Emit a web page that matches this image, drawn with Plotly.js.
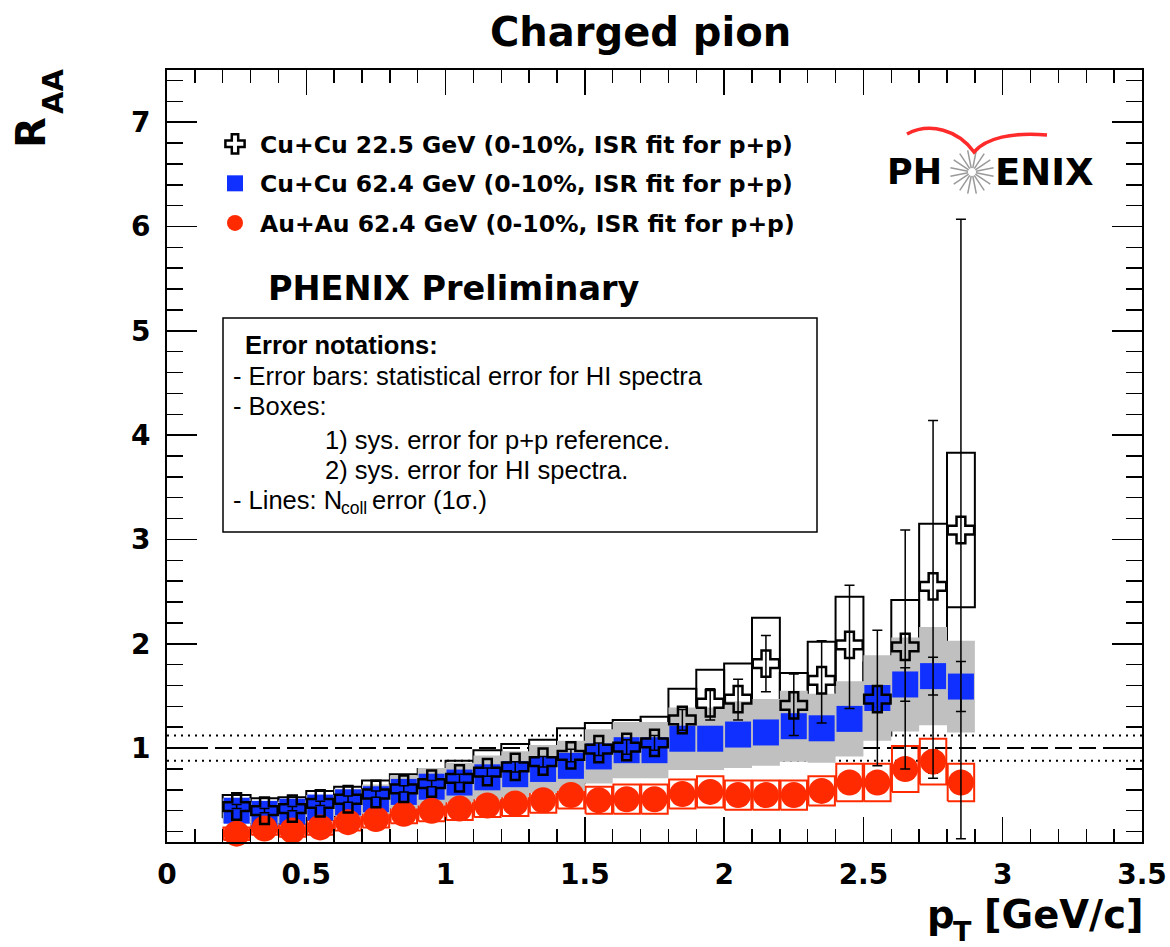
<!DOCTYPE html>
<html><head><meta charset="utf-8">
<script src="https://cdn.plot.ly/plotly-3.0.1.min.js"></script>
<style>body{margin:0;background:#fff}#plot{width:1170px;height:947px}</style>
</head><body><div id="plot"></div>
<script>
// ---- data ----
const pt = [0.25,0.35,0.45,0.55,0.65,0.75,0.85,0.95,1.05,1.15,1.25,1.35,1.45,1.55,1.65,1.75,1.85,1.95,2.05,2.15,2.25,2.35,2.45,2.55,2.65,2.75,2.85];

const cu22      = [0.44,0.40,0.42,0.47,0.51,0.56,0.61,0.66,0.71,0.77,0.82,0.87,0.93,0.99,1.01,1.05,1.27,1.43,1.47,1.81,1.41,1.65,1.99,1.47,1.97,2.55,3.09];
const cu22StatUp= [0.02,0.02,0.02,0.02,0.03,0.03,0.03,0.03,0.04,0.04,0.05,0.05,0.06,0.06,0.07,0.07,0.10,0.14,0.19,0.27,0.30,0.38,0.57,0.66,1.12,1.59,2.98];
const cu22StatDn= [0.02,0.02,0.02,0.02,0.03,0.03,0.03,0.03,0.04,0.04,0.05,0.05,0.06,0.06,0.07,0.07,0.10,0.16,0.20,0.27,0.29,0.41,0.61,0.64,1.17,1.84,2.96];
const cu22Sys   = [0.11,0.12,0.11,0.12,0.12,0.13,0.14,0.14,0.17,0.21,0.22,0.21,0.26,0.25,0.26,0.25,0.30,0.32,0.34,0.44,0.31,0.37,0.46,0.35,0.45,0.60,0.74];

const cu62      = [0.40,0.37,0.39,0.43,0.48,0.51,0.58,0.63,0.67,0.72,0.75,0.80,0.83,0.92,0.98,0.98,1.09,1.09,1.13,1.15,1.21,1.19,1.28,1.48,1.61,1.69,1.59];
const cu62Stat  = [0.01,0.01,0.01,0.01,0.01,0.01,0.01,0.01,0.02,0.02,0.02,0.02,0.03,0.03,0.03,0.04,0.04,0.05,0.05,0.06,0.07,0.08,0.09,0.11,0.16,0.18,0.24];
const cu62Sys   = [0.12,0.11,0.11,0.12,0.13,0.14,0.16,0.18,0.19,0.21,0.22,0.23,0.24,0.26,0.27,0.27,0.30,0.30,0.32,0.32,0.34,0.33,0.36,0.41,0.45,0.47,0.44];

const au62      = [0.18,0.23,0.21,0.24,0.29,0.32,0.37,0.40,0.42,0.45,0.47,0.50,0.55,0.50,0.51,0.51,0.56,0.58,0.55,0.55,0.55,0.59,0.67,0.67,0.80,0.87,0.67];
const au62Stat  = [0.01,0.01,0.01,0.01,0.01,0.01,0.01,0.01,0.01,0.01,0.01,0.02,0.02,0.02,0.02,0.02,0.03,0.03,0.03,0.03,0.04,0.04,0.05,0.06,0.08,0.11,0.09];
const au62Sys   = [0.06,0.06,0.06,0.07,0.08,0.08,0.09,0.10,0.11,0.11,0.12,0.12,0.13,0.13,0.14,0.14,0.14,0.15,0.14,0.14,0.14,0.14,0.18,0.18,0.22,0.22,0.18];

const ncollLevel = [1.0];
const ncollErr   = [0.12];
const xRange = [0, 3.5];
const yRange = [0.1, 7.5];

const legendNames = [
  'Cu+Cu 22.5 GeV (0-10%, ISR fit for p+p)',
  'Cu+Cu 62.4 GeV (0-10%, ISR fit for p+p)',
  'Au+Au 62.4 GeV (0-10%, ISR fit for p+p)'
];

// ---- helpers ----
function boxPath(xc, yc, half, w) {
  const X = [], Y = [];
  xc.forEach((x, i) => {
    const x0 = x - w / 2, x1 = x + w / 2, y0 = yc[i] - half[i], y1 = yc[i] + half[i];
    X.push(x0, x1, x1, x0, x0, null);
    Y.push(y0, y0, y1, y1, y0, null);
  });
  return {X, Y};
}
// pixel -> paper conversion for decorations
const PL = 167, PR = 1142, PT = 70, PB = 842;
const px = x => (x - PL) / (PR - PL);
const py = y => (PB - y) / (PB - PT);

const BOLD = {family: 'DejaVu Sans', weight: 'bold', color: '#000'};

const redBox = boxPath(pt, au62, au62Sys, 0.095);
const blackBox = boxPath(pt, cu22, cu22Sys, 0.1);
const grayBox = boxPath(pt, cu62, cu62Sys, 0.1);

const traces = [
  {x: xRange, y: [ncollLevel[0], ncollLevel[0]], mode: 'lines', showlegend: false, hoverinfo: 'skip',
   line: {color: '#000', width: 2, dash: '17px,7px'}},
  {x: [xRange[0], xRange[1], null, xRange[0], xRange[1]],
   y: [ncollLevel[0] + ncollErr[0], ncollLevel[0] + ncollErr[0], null, ncollLevel[0] - ncollErr[0], ncollLevel[0] - ncollErr[0]],
   mode: 'lines', showlegend: false, hoverinfo: 'skip', line: {color: '#000', width: 2, dash: '2px,5px'}},
  {x: redBox.X, y: redBox.Y, mode: 'lines', showlegend: false, hoverinfo: 'skip',
   line: {color: '#ff2a00', width: 2}},
  {x: blackBox.X, y: blackBox.Y, mode: 'lines', showlegend: false, hoverinfo: 'skip',
   line: {color: '#000', width: 2}},
  {x: grayBox.X, y: grayBox.Y, mode: 'lines', fill: 'toself', fillcolor: '#c0c0c0', showlegend: false,
   hoverinfo: 'skip', line: {width: 0, color: 'rgba(0,0,0,0)'}},
  {x: pt, y: cu62, mode: 'markers', name: legendNames[1], legendgroup: 'b', legendrank: 2, cliponaxis: false,
   marker: {symbol: 'square', size: 26, color: '#1030ff'},
   error_y: {type: 'data', array: cu62Stat, color: '#000', thickness: 1.5, width: 5}},
  {x: pt, y: au62, mode: 'markers', name: legendNames[2], legendgroup: 'c', legendrank: 3, cliponaxis: false,
   marker: {symbol: 'circle', size: 26, color: '#ff2a00'},
   error_y: {type: 'data', array: au62Stat, color: '#000', thickness: 1.5, width: 5}},
  {x: pt, y: cu22, mode: 'markers', name: legendNames[0], legendgroup: 'a', legendrank: 1, cliponaxis: false,
   marker: {symbol: 'cross-open', size: 22, color: '#000', line: {color: '#000', width: 2.5}},
   error_y: {type: 'data', symmetric: false, array: cu22StatUp, arrayminus: cu22StatDn, color: '#000', thickness: 1.5, width: 5}}
];

// ---- decorations: error-notation frame, PHENIX logo starburst and arc ----
const shapes = [
  {type: 'rect', xref: 'paper', yref: 'paper', x0: px(223), x1: px(817), y0: py(532), y1: py(318),
   fillcolor: '#fff', line: {color: '#000', width: 1.5}, layer: 'above'}
];
const cx = 972, cy = 172;
for (let k = 0; k < 16; k++) {
  const a = k * Math.PI / 8 + Math.PI / 16;
  shapes.push({type: 'line', xref: 'paper', yref: 'paper',
    x0: px(cx + 4 * Math.cos(a)), y0: py(cy + 4 * Math.sin(a)),
    x1: px(cx + 22 * Math.cos(a)), y1: py(cy + 22 * Math.sin(a)),
    line: {color: '#9a9a9a', width: 1.5}});
}
const pp = (x, y) => px(x).toFixed(5) + ',' + py(y).toFixed(5);
shapes.push({type: 'path', xref: 'paper', yref: 'paper',
  path: 'M' + pp(907, 134) + ' C' + pp(930, 122) + ' ' + pp(958, 130) + ' ' + pp(974, 152) +
        ' C' + pp(986, 138) + ' ' + pp(1012, 132) + ' ' + pp(1047, 135),
  line: {color: '#ff2a2a', width: 3.5}});

function ann(text, x, y, xa, ya, font, extra) {
  return Object.assign({text: text, xref: 'paper', yref: 'paper', x: px(x), y: py(y), xanchor: xa, yanchor: ya,
    showarrow: false, font: font}, extra || {});
}
const B = s => Object.assign({size: s}, BOLD);
const annotations = [
  ann('Charged pion', 640, 32, 'center', 'middle', B(40)),
  // y-axis title R_AA (rotated), subscript drawn as its own smaller text
  ann('R', 31, 133, 'center', 'middle', B(40), {textangle: -90}),
  ann('AA', 53, 92, 'center', 'middle', B(29), {textangle: -90}),
  // x-axis title p_T [GeV/c]
  ann('p', 925, 915, 'left', 'middle', B(38.5)),
  ann('T', 951, 931, 'left', 'middle', B(27)),
  ann('[GeV/c]', 1146, 915, 'right', 'middle', B(38.5)),
  ann('PHENIX Preliminary', 266, 288, 'left', 'middle', B(33.5)),
  ann('PH', 944, 172, 'right', 'middle', B(35)),
  ann('ENIX', 993, 172, 'left', 'middle', B(37))
];
const REG = s => ({family: 'Liberation Sans', size: s, weight: 'normal', color: '#000'});
annotations.push(
  ann('Error notations:', 243, 345, 'left', 'middle', {family: 'Liberation Sans', size: 25.5, weight: 'bold', color: '#000'}),
  ann('- Error bars: statistical error for HI spectra', 231, 376, 'left', 'middle', REG(25.5)),
  ann('- Boxes:', 231, 406, 'left', 'middle', REG(25.5)),
  ann('1) sys. error for p+p reference.', 323, 440, 'left', 'middle', REG(25.5)),
  ann('2) sys. error for HI spectra.', 323, 470, 'left', 'middle', REG(25.5)),
  ann('- Lines: N', 231, 500, 'left', 'middle', REG(25.5)),
  ann('coll', 339, 508, 'left', 'middle', REG(17.5)),
  ann('error (1σ.)', 370, 500, 'left', 'middle', REG(25.5))
);

const axisCommon = {
  showline: true, linecolor: '#000', linewidth: 2, mirror: 'allticks',
  ticks: 'inside', tickcolor: '#000', tickwidth: 1.5, showgrid: false, zeroline: false,
  tickfont: B(28), ticklabelstandoff: 6
};

const layout = {
  width: 1170, height: 947,
  margin: {l: PL, r: 1170 - PR, t: PT, b: 947 - PB},
  paper_bgcolor: '#fff', plot_bgcolor: '#fff',
  showlegend: true,
  legend: {x: px(210), y: py(122), xanchor: 'left', yanchor: 'top', bgcolor: 'rgba(0,0,0,0)',
    itemwidth: 40, traceorder: 'grouped', tracegroupgap: 6, font: B(23.5)},
  xaxis: Object.assign({}, axisCommon, {range: xRange, dtick: 0.5, tick0: 0, ticklen: 25,
    minor: {dtick: 0.1, ticks: 'inside', ticklen: 13, tickcolor: '#000', tickwidth: 1.5, showgrid: false}}),
  yaxis: Object.assign({}, axisCommon, {range: yRange, dtick: 1, tick0: 0, ticklen: 30, ticklabelstandoff: 9,
    minor: {dtick: 0.2, ticks: 'inside', ticklen: 16, tickcolor: '#000', tickwidth: 1.5, showgrid: false}}),
  shapes: shapes,
  annotations: annotations
};

Plotly.newPlot('plot', traces, layout, {displayModeBar: false, staticPlot: true});
</script></body></html>
